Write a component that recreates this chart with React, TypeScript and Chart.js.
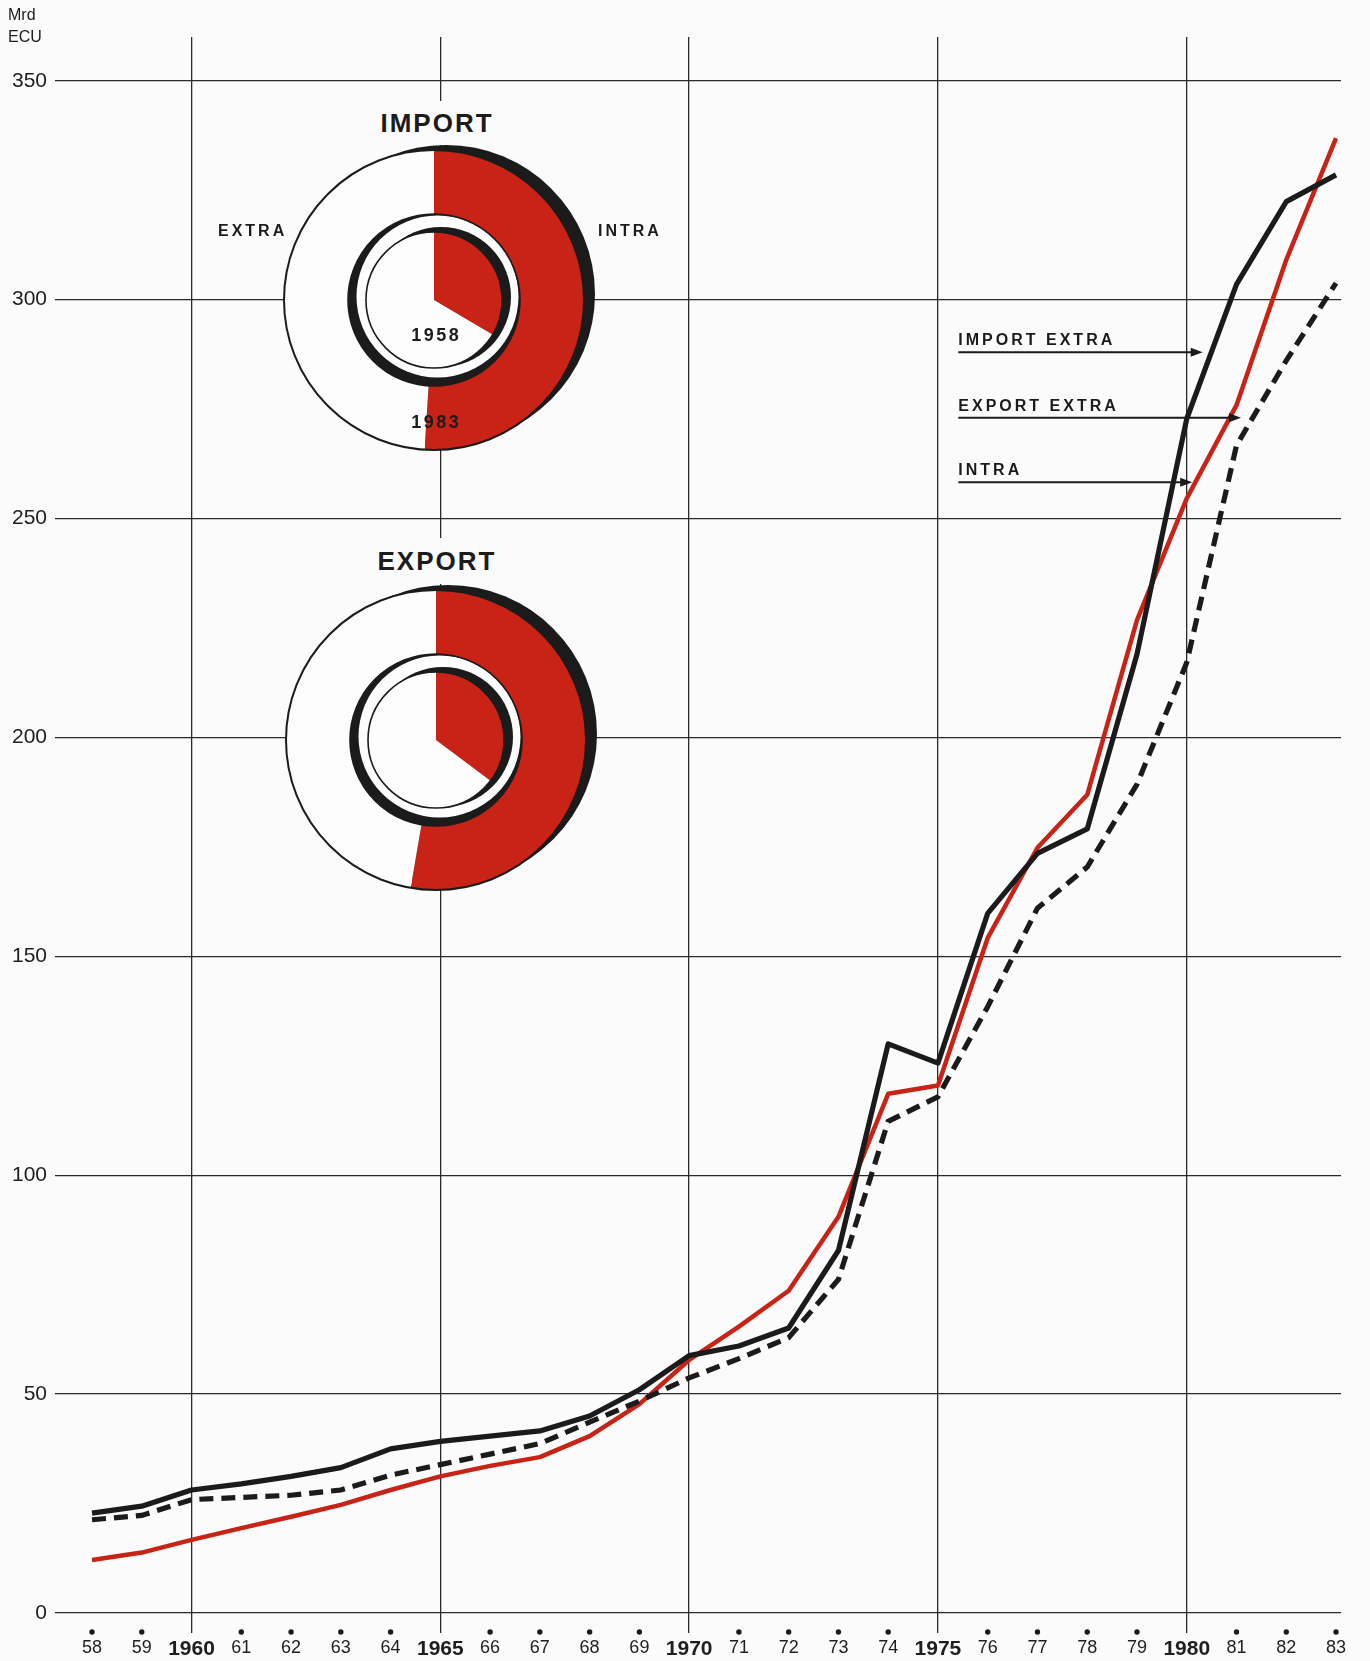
import React, { useEffect, useRef } from 'react';
import { Chart, registerables } from 'chart.js';

Chart.register(...registerables);

// ---------------- data ----------------
const years = [58, 59, 60, 61, 62, 63, 64, 65, 66, 67, 68, 69, 70, 71, 72, 73, 74, 75, 76, 77, 78, 79, 80, 81, 82, 83];
const importExtra = [22.8, 24.4, 28.1, 29.5, 31.2, 33.2, 37.5, 39.2, 40.4, 41.6, 45.0, 51.0, 58.8, 61.0, 65.1, 82.8, 130.0, 125.6, 159.8, 173.5, 179.1, 219.0, 272.8, 303.5, 322.4, 328.5];
const exportExtra = [21.3, 22.3, 25.9, 26.4, 26.9, 28.1, 31.5, 33.9, 36.3, 38.7, 43.6, 48.4, 53.7, 58.1, 62.9, 76.2, 112.3, 117.9, 138.5, 161.0, 170.4, 189.3, 217.1, 266.7, 286.1, 303.8];
const intra = [12.1, 13.8, 16.7, 19.4, 22.0, 24.7, 28.1, 31.2, 33.6, 35.6, 40.4, 47.7, 57.8, 65.4, 73.6, 90.5, 118.6, 120.5, 154.2, 174.8, 186.9, 226.8, 254.6, 275.9, 309.1, 336.9];

const yTicks = [0, 50, 100, 150, 200, 250, 300, 350];
const majorYears = [60, 65, 70, 75, 80];

const arrowLabels = ['IMPORT EXTRA', 'EXPORT EXTRA', 'INTRA'];
const arrowValues = [288.0, 273.0, 258.3];
const arrowStartYear = 75.41;
const arrowTipYears = [80.32, 81.09, 80.11];

const donutTitles = ['IMPORT', 'EXPORT'];
const intraShare1958 = [33.5, 35.2];
const extraShare1958 = [66.5, 64.8];
const intraShare1983 = [51.0, 52.7];
const extraShare1983 = [49.0, 47.3];

// ---------------- styles ----------------
const RED = '#c92216';
const INK = '#1b1b1b';
const GRID = '#2a2a2a';
const PAPER = '#fbfbfb';
const WHITE = '#fdfdfd';
const FONT = "'Liberation Sans', Arial, Helvetica, sans-serif";

const W = 1370;
const H = 1661;

const pageDecor = {
  id: 'pageDecor',
  afterDatasetsDraw(chart: any) {
    const { ctx, scales, chartArea } = chart;
    const xs = scales.x;
    const ys = scales.y;
    ctx.save();
    // dots under the axis
    ctx.fillStyle = INK;
    years.forEach((yr) => {
      if (majorYears.includes(yr)) return;
      const x = xs.getPixelForValue(yr);
      ctx.beginPath();
      ctx.arc(x, chartArea.bottom + 19, 2.7, 0, Math.PI * 2);
      ctx.fill();
    });
    // arrows + labels
    ctx.strokeStyle = INK;
    ctx.fillStyle = INK;
    ctx.lineWidth = 2;
    ctx.font = `bold 16px ${FONT}`;
    (ctx as any).letterSpacing = '3px';
    ctx.textBaseline = 'alphabetic';
    ctx.textAlign = 'left';
    arrowLabels.forEach((lab, i) => {
      const x0 = xs.getPixelForValue(arrowStartYear);
      const x1 = xs.getPixelForValue(arrowTipYears[i]);
      const y = ys.getPixelForValue(arrowValues[i]);
      ctx.beginPath();
      ctx.moveTo(x0, y);
      ctx.lineTo(x1 - 9, y);
      ctx.stroke();
      ctx.beginPath();
      ctx.moveTo(x1, y);
      ctx.lineTo(x1 - 12, y - 4.5);
      ctx.lineTo(x1 - 12, y + 4.5);
      ctx.closePath();
      ctx.fill();
      ctx.fillText(lab, x0, y - 7);
    });
    ctx.restore();
  },
};

function MainChart() {
  const ref = useRef<HTMLCanvasElement | null>(null);
  useEffect(() => {
    if (!ref.current) return;
    const pts = (arr: number[]) => years.map((yr, i) => ({ x: yr, y: arr[i] }));
    const chart = new Chart(ref.current, {
      type: 'line',
      data: {
        datasets: [
          {
            label: 'INTRA',
            data: pts(intra),
            borderColor: RED,
            borderWidth: 4.5,
            pointRadius: 0,
            tension: 0,
            borderJoinStyle: 'round',
            order: 3,
          },
          {
            label: 'EXPORT EXTRA',
            data: pts(exportExtra),
            borderColor: INK,
            borderWidth: 5.2,
            borderDash: [14, 8],
            pointRadius: 0,
            tension: 0,
            borderJoinStyle: 'miter',
            order: 2,
          },
          {
            label: 'IMPORT EXTRA',
            data: pts(importExtra),
            borderColor: INK,
            borderWidth: 5.2,
            pointRadius: 0,
            tension: 0,
            borderJoinStyle: 'round',
            order: 1,
          },
        ],
      } as any,
      options: {
        animation: false,
        responsive: false,
        events: [],
        layout: { padding: { top: 37, right: 29, left: 0, bottom: 0 } },
        plugins: { legend: { display: false }, tooltip: { enabled: false } },
        scales: {
          x: {
            type: 'linear',
            min: 57.256,
            max: 83.1,
            afterBuildTicks: (s: any) => {
              s.ticks = years.map((v) => ({ value: v }));
            },
            afterFit: (s: any) => {
              s.height = 48;
            },
            border: { display: false },
            grid: {
              color: (c: any) => (c.tick && majorYears.includes(c.tick.value) ? GRID : 'rgba(0,0,0,0)'),
              lineWidth: 1.3,
              drawTicks: true,
              tickLength: 20,
            },
            ticks: {
              autoSkip: false,
              maxRotation: 0,
              minRotation: 0,
              padding: 6,
              color: '#1e1e1e',
              font: (c: any) =>
                c.tick && majorYears.includes(c.tick.value)
                  ? { family: FONT, size: 21, weight: 'bold', lineHeight: 1.0 }
                  : { family: FONT, size: 18, weight: 'normal', lineHeight: 1.0 },
              callback: (v: any) => (majorYears.includes(v) ? String(1900 + v) : String(v)),
            },
          },
          y: {
            min: 0,
            max: 360,
            afterBuildTicks: (s: any) => {
              s.ticks = yTicks.map((v) => ({ value: v }));
            },
            afterFit: (s: any) => {
              s.width = 55;
            },
            border: { display: false },
            grid: { color: GRID, lineWidth: 1.3, drawTicks: false },
            ticks: {
              padding: 8,
              color: '#1e1e1e',
              font: { family: FONT, size: 21 },
              callback: (v: any) => String(v),
            },
          },
        },
      } as any,
      plugins: [pageDecor],
    });
    return () => chart.destroy();
  }, []);
  return (
    <canvas
      ref={ref}
      width={W}
      height={H}
      style={{ position: 'absolute', left: 0, top: 0, width: W, height: H }}
    />
  );
}

const donutDecor = {
  id: 'donutDecor',
  beforeDatasetsDraw(chart: any) {
    const arc = chart.getDatasetMeta(0).data[0];
    if (!arc) return;
    const { ctx } = chart;
    const cx = arc.x;
    const cy = arc.y;
    const disk = (x: number, y: number, r: number, c: string) => {
      ctx.beginPath();
      ctx.arc(x, y, r, 0, Math.PI * 2);
      ctx.fillStyle = c;
      ctx.fill();
    };
    ctx.save();
    disk(cx + 12, cy - 6, 149, INK); // outer shadow crescent
    disk(cx, cy, 86, INK);
    disk(cx + 3.5, cy - 3.5, 81, WHITE);
    disk(cx + 7, cy - 3, 70, INK); // inner disk shadow
    ctx.restore();
  },
  afterDatasetsDraw(chart: any) {
    const arc = chart.getDatasetMeta(0).data[0];
    if (!arc) return;
    const { ctx } = chart;
    const cx = arc.x;
    const cy = arc.y;
    ctx.save();
    ctx.strokeStyle = INK;
    [
      [150, 2],
      [86, 1.6],
      [68, 1.6],
    ].forEach(([r, lw]) => {
      ctx.beginPath();
      ctx.arc(cx, cy, r, 0, Math.PI * 2);
      ctx.lineWidth = lw;
      ctx.stroke();
    });
    ctx.restore();
  },
};

const DONUT_SIZE = 340;

function Donut({ index, cx, cy }: { index: number; cx: number; cy: number }) {
  const ref = useRef<HTMLCanvasElement | null>(null);
  useEffect(() => {
    if (!ref.current) return;
    const chart = new Chart(ref.current, {
      type: 'doughnut',
      data: {
        labels: ['INTRA', 'EXTRA'],
        datasets: [
          {
            label: '1983',
            data: [intraShare1983[index], extraShare1983[index]],
            backgroundColor: [RED, WHITE],
            borderWidth: 0,
            weight: 64,
          },
          {
            label: 'gap',
            data: [1],
            backgroundColor: ['rgba(0,0,0,0)'],
            borderWidth: 0,
            weight: 18,
          },
          {
            label: '1958',
            data: [intraShare1958[index], extraShare1958[index]],
            backgroundColor: [RED, WHITE],
            borderWidth: 0,
            weight: 68,
          },
        ],
      } as any,
      options: {
        animation: false,
        responsive: false,
        events: [],
        cutout: 0,
        radius: 150,
        plugins: { legend: { display: false }, tooltip: { enabled: false } },
      } as any,
      plugins: [donutDecor],
    });
    return () => chart.destroy();
  }, [index]);
  return (
    <canvas
      ref={ref}
      width={DONUT_SIZE}
      height={DONUT_SIZE}
      style={{
        position: 'absolute',
        left: cx - DONUT_SIZE / 2,
        top: cy - DONUT_SIZE / 2,
        width: DONUT_SIZE,
        height: DONUT_SIZE,
      }}
    />
  );
}

function Label(props: {
  text: string;
  x: number;
  baseline: number;
  size: number;
  bold?: boolean;
  spacing?: number;
  align?: 'left' | 'center';
}) {
  const { text, x, baseline, size, bold, spacing = 0, align = 'left' } = props;
  const top = baseline - 0.8465 * size;
  const style: React.CSSProperties = {
    position: 'absolute',
    top,
    fontFamily: FONT,
    fontSize: size,
    lineHeight: `${size}px`,
    fontWeight: bold ? 700 : 400,
    letterSpacing: spacing,
    color: '#1c1c1c',
    whiteSpace: 'nowrap',
  };
  if (align === 'center') {
    style.left = x - 150;
    style.width = 300;
    style.textAlign = 'center';
    style.paddingLeft = spacing;
    style.boxSizing = 'border-box';
  } else {
    style.left = x;
  }
  return <div style={style}>{text}</div>;
}

function Title({ text, cx, top, h }: { text: string; cx: number; top: number; h: number }) {
  return (
    <div
      style={{
        position: 'absolute',
        left: cx - 75,
        width: 150,
        top,
        height: h,
        lineHeight: `${h}px`,
        background: PAPER,
        textAlign: 'center',
        fontFamily: FONT,
        fontSize: 26,
        fontWeight: 700,
        letterSpacing: 2,
        paddingLeft: 2,
        boxSizing: 'border-box',
        color: '#1c1c1c',
      }}
    >
      {text}
    </div>
  );
}

export default function App() {
  return (
    <div
      style={{
        position: 'absolute',
        left: 0,
        top: 0,
        width: W,
        height: H,
        background: PAPER,
        overflow: 'hidden',
      }}
    >
      <MainChart />
      <div
        style={{
          position: 'absolute',
          left: 8,
          top: 4,
          fontFamily: FONT,
          fontSize: 16,
          lineHeight: '22px',
          color: '#1c1c1c',
        }}
      >
        Mrd
        <br />
        ECU
      </div>
      <Title text={donutTitles[0]} cx={436} top={101} h={44} />
      <Title text={donutTitles[1]} cx={436} top={538} h={46} />
      <Donut index={0} cx={434} cy={300} />
      <Donut index={1} cx={436} cy={740} />
      <Label text="EXTRA" x={218} baseline={237} size={16} bold spacing={3} />
      <Label text="INTRA" x={598} baseline={237} size={16} bold spacing={3} />
      <Label text="1958" x={435} baseline={341} size={18} bold spacing={2.5} align="center" />
      <Label text="1983" x={435} baseline={428} size={18} bold spacing={2.5} align="center" />
    </div>
  );
}
